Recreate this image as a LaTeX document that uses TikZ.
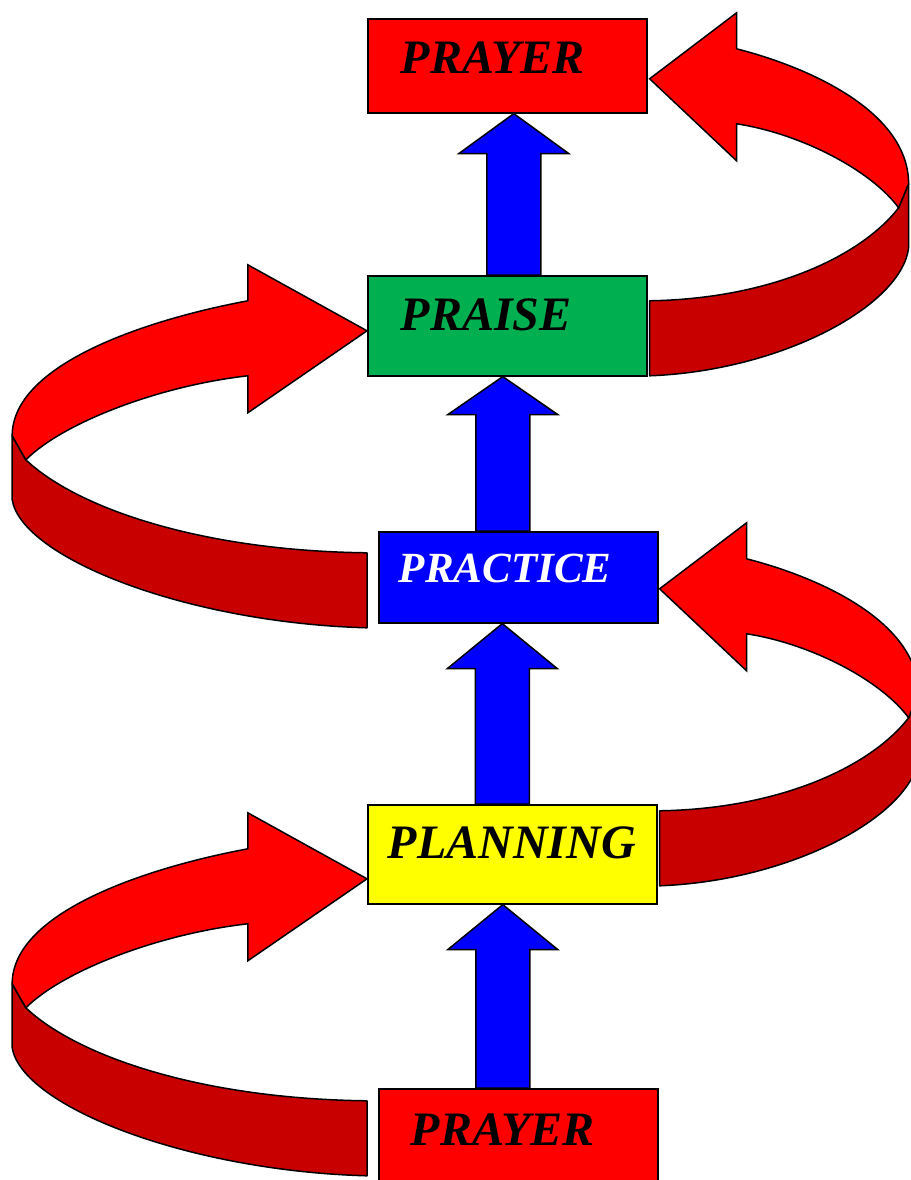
\documentclass[tikz,border=0pt]{standalone}
\usepackage{fontspec}
\setmainfont{Liberation Serif}
\usetikzlibrary{calc}

\definecolor{ribbonred}{RGB}{255,0,0}
\definecolor{ribbondark}{RGB}{200,0,0}
\definecolor{praisegreen}{RGB}{0,176,80}
\definecolor{practiceblue}{RGB}{0,0,255}
\definecolor{planyellow}{RGB}{255,255,0}

% upward block arrow: lower box, upper box, x offset, head length
\newcommand{\liftarrow}[4]{%
  \draw[lift] let \p1=($(#1.north)+(#3,0)$), \p2=(#2.south) in
    (\x1-27pt,\y1) -- (\x1-27pt,\y2-#4pt) -- (\x1-55pt,\y2-#4pt) -- (\x1,\y2)
    -- (\x1+55pt,\y2-#4pt) -- (\x1+27pt,\y2-#4pt) -- (\x1+27pt,\y1) -- cycle;}

% curled ribbon arrow: tip point, horizontal stretch (negative = curls to the left)
\newcommand{\ribbon}[2]{%
  \begin{scope}[shift={#1}, xscale=#2]
    \draw[band] (249,129) .. controls (212,177) and (122,220) .. (0,222)
      -- (0,297) .. controls (132,292) and (252,227) .. (259,169) -- (259,105) -- cycle;
    \draw[sweep] (0,0) -- (87,-66) -- (87,-30) .. controls (165,-10) and (259,35) .. (259,105)
      -- (249,129) .. controls (222,92) and (152,55) .. (87,45) -- (87,82) -- cycle;
  \end{scope}}

\begin{document}
\begin{tikzpicture}[x=1pt, y=-1pt,
    stage/.style={draw=black, line width=1.6pt, inner sep=0pt, anchor=north west,
        align=left, font=\fontsize{48}{50}\selectfont\bfseries\itshape},
    lift/.style={draw=black, line width=1.5pt, line join=miter, fill=practiceblue},
    band/.style={draw=black, line width=1.5pt, line join=round, fill=ribbondark},
    sweep/.style={draw=black, line width=1.5pt, line join=miter, fill=ribbonred}]
    \useasboundingbox (0,0) rectangle (910,1180);

    \node[stage, fill=ribbonred, text width=279pt, text height=55pt, text depth=39pt]
        (prayertop) at (367,18) {\hspace*{33pt}PRAYER};
    \node[stage, fill=praisegreen, text width=279pt, text height=55pt, text depth=45pt]
        (praise) at (367,275) {\hspace*{33pt}PRAISE};
    \node[stage, fill=practiceblue, text=white, text width=279pt, text height=51pt,
        text depth=40pt, font=\fontsize{43}{46}\selectfont\bfseries\itshape]
        (practice) at (378,531) {\hspace*{20pt}PRACTICE};
    \node[stage, fill=planyellow, text width=289pt, text height=54pt, text depth=45pt]
        (planning) at (367,804) {\hspace*{20pt}PLANNING};
    \node[stage, fill=ribbonred, text width=279pt, text height=57pt, text depth=40pt]
        (prayerbase) at (378,1088) {\hspace*{32pt}PRAYER};

    \ribbon{($(prayertop.east)+(2,13)$)}{1}
    \ribbon{($(praise.west)+(0,5)$)}{-1.37}
    \ribbon{($(practice.east)+(1,11.5)$)}{1}
    \ribbon{($(planning.west)+(0,24.5)$)}{-1.37}

    \liftarrow{praise}{prayertop}{6.5}{40}
    \liftarrow{practice}{praise}{-15.5}{38}
    \liftarrow{planning}{practice}{-10}{45}
    \liftarrow{prayerbase}{planning}{-15.5}{45}

\end{tikzpicture}
\end{document}
